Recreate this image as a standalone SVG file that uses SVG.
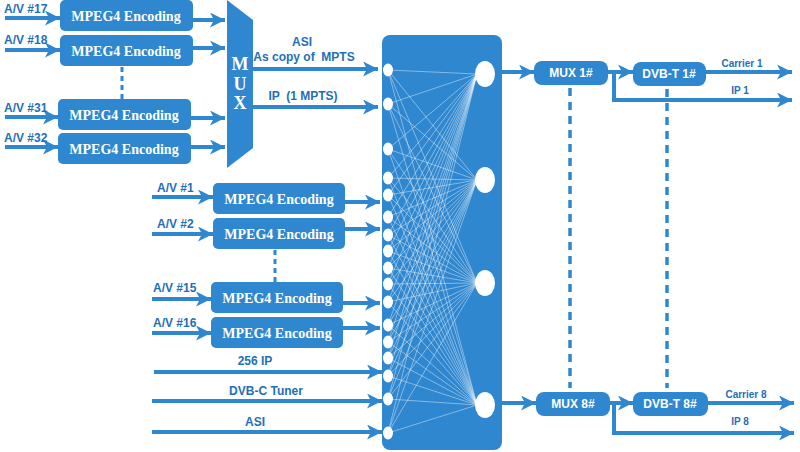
<svg xmlns="http://www.w3.org/2000/svg" width="800" height="452" viewBox="0 0 800 452">
<defs>
<marker id="ah" markerUnits="userSpaceOnUse" markerWidth="17" markerHeight="15" refX="15" refY="7.5" orient="auto" viewBox="0 0 17 15">
<path d="M0,0 L15,7.5 L0,15 L4,7.5 Z" fill="#2f87cf"/>
</marker>
<style>
.box{fill:#2f87cf;}
.enc{font-family:"Liberation Serif","Times New Roman",serif;font-weight:bold;font-size:14px;fill:#ffffff;text-anchor:middle;}
.mux{font-family:"Liberation Serif","Times New Roman",serif;font-weight:bold;font-size:18px;fill:#ffffff;text-anchor:middle;}
.wl{font-family:"Liberation Sans",Arial,sans-serif;font-weight:bold;font-size:12px;fill:#ffffff;text-anchor:middle;}
.lbl{font-family:"Liberation Sans",Arial,sans-serif;font-weight:bold;font-size:12px;fill:#1e6fba;}
.sm{font-family:"Liberation Sans",Arial,sans-serif;font-weight:bold;font-size:10px;fill:#1e6fba;text-anchor:middle;}
.ar{stroke:#2f87cf;stroke-width:4;fill:none;marker-end:url(#ah);}
.dash{stroke:#2f87cf;stroke-width:3;stroke-dasharray:5 4;fill:none;}
.dash2{stroke:#2f87cf;stroke-width:3.5;stroke-dasharray:8 6;fill:none;}
.port{fill:#ffffff;}
</style>
</defs>
<rect width="800" height="452" fill="#ffffff"/>

<g id="connectors">
<line class="ar" x1="5" y1="18" x2="60" y2="18"/>
<line class="ar" x1="5" y1="50" x2="60" y2="50"/>
<line class="ar" x1="5" y1="117" x2="58" y2="117"/>
<line class="ar" x1="5" y1="147" x2="58" y2="147"/>
<line class="ar" x1="193" y1="20" x2="225" y2="20"/>
<line class="ar" x1="193" y1="48" x2="225" y2="48"/>
<line class="ar" x1="191" y1="118" x2="225" y2="118"/>
<line class="ar" x1="191" y1="147" x2="225" y2="147"/>
<line class="dash" x1="122" y1="67" x2="122" y2="99"/>
<line class="ar" x1="253" y1="69" x2="378" y2="69"/>
<line class="ar" x1="253" y1="107" x2="378" y2="107"/>
<line class="ar" x1="152" y1="197" x2="213" y2="197"/>
<line class="ar" x1="152" y1="234" x2="213" y2="234"/>
<line class="ar" x1="152" y1="299" x2="211" y2="299"/>
<line class="ar" x1="152" y1="333" x2="211" y2="333"/>
<line class="ar" x1="345" y1="202" x2="380" y2="202"/>
<line class="ar" x1="345" y1="229" x2="380" y2="229"/>
<line class="ar" x1="343" y1="303" x2="380" y2="303"/>
<line class="ar" x1="343" y1="328" x2="380" y2="328"/>
<line class="dash" x1="275" y1="250" x2="275" y2="282"/>
<line class="ar" x1="154" y1="372" x2="382" y2="372"/>
<line class="ar" x1="152" y1="401" x2="382" y2="401"/>
<line class="ar" x1="152" y1="432" x2="382" y2="432"/>
<line class="ar" x1="496" y1="72" x2="534" y2="72"/>
<line class="ar" x1="608" y1="72" x2="633" y2="72"/>
<line class="ar" x1="706" y1="72" x2="792" y2="72"/>
<path class="ar" d="M614,72 L614,100 L792,100"/>
<line class="ar" x1="496" y1="403" x2="536" y2="403"/>
<line class="ar" x1="610" y1="403" x2="633" y2="403"/>
<line class="ar" x1="708" y1="403" x2="794" y2="403"/>
<path class="ar" d="M614,403 L614,433 L794,433"/>
<line class="dash2" x1="570" y1="88" x2="570" y2="388"/>
<line class="dash2" x1="667" y1="89" x2="667" y2="388"/>
</g>

<g id="enc17"><rect class="box" x="60" y="0" width="133" height="31" rx="5"/><text class="enc" x="126" y="21">MPEG4 Encoding</text></g>
<g id="enc18"><rect class="box" x="60" y="35" width="133" height="31" rx="5"/><text class="enc" x="126" y="56">MPEG4 Encoding</text></g>
<g id="enc31"><rect class="box" x="58" y="99" width="133" height="31" rx="5"/><text class="enc" x="124" y="120">MPEG4 Encoding</text></g>
<g id="enc32"><rect class="box" x="58" y="133" width="133" height="31" rx="5"/><text class="enc" x="124" y="154">MPEG4 Encoding</text></g>

<g id="labels-left">
<text class="lbl" x="4" y="13">A/V #17</text>
<text class="lbl" x="4" y="44">A/V #18</text>
<text class="lbl" x="4" y="112">A/V #31</text>
<text class="lbl" x="4" y="142">A/V #32</text>
<text class="lbl" x="157" y="192">A/V #1</text>
<text class="lbl" x="157" y="228">A/V #2</text>
<text class="lbl" x="153" y="292">A/V #15</text>
<text class="lbl" x="153" y="327">A/V #16</text>
<text class="lbl" x="302" y="46" text-anchor="middle">ASI</text>
<text class="lbl" x="304" y="61" text-anchor="middle" xml:space="preserve">As copy of  MPTS</text>
<text class="lbl" x="303" y="100" text-anchor="middle" xml:space="preserve">IP  (1 MPTS)</text>
<text class="lbl" x="255" y="365" text-anchor="middle">256 IP</text>
<text class="lbl" x="266" y="395" text-anchor="middle">DVB-C Tuner</text>
<text class="lbl" x="255" y="426" text-anchor="middle">ASI</text>
</g>

<g id="mux">
<polygon class="box" points="227,0 253,20 253,148 227,168"/>
<text class="mux" x="240" y="70">M</text>
<text class="mux" x="240" y="90">U</text>
<text class="mux" x="240" y="109">X</text>
</g>

<g id="enc1"><rect class="box" x="213" y="183" width="132" height="31" rx="5"/><text class="enc" x="279" y="204">MPEG4 Encoding</text></g>
<g id="enc2"><rect class="box" x="213" y="218" width="132" height="31" rx="5"/><text class="enc" x="279" y="239">MPEG4 Encoding</text></g>
<g id="enc15"><rect class="box" x="211" y="282" width="132" height="31" rx="5"/><text class="enc" x="277" y="303">MPEG4 Encoding</text></g>
<g id="enc16"><rect class="box" x="211" y="317" width="132" height="31" rx="5"/><text class="enc" x="277" y="338">MPEG4 Encoding</text></g>

<g id="matrix">
<rect class="box" x="382" y="35" width="120" height="415" rx="8"/>
<path stroke="#ffffff" stroke-width="0.6" stroke-opacity="0.7" fill="none" d="M388 70L477 74M388 70L477 180M388 70L477 283M388 70L477 405M388 104L477 74M388 104L477 180M388 104L477 283M388 104L477 405M388 149L477 74M388 149L477 180M388 149L477 283M388 149L477 405M388 178L477 74M388 178L477 180M388 178L477 283M388 178L477 405M388 195L477 74M388 195L477 180M388 195L477 283M388 195L477 405M388 217L477 74M388 217L477 180M388 217L477 283M388 217L477 405M388 235L477 74M388 235L477 180M388 235L477 283M388 235L477 405M388 251L477 74M388 251L477 180M388 251L477 283M388 251L477 405M388 268L477 74M388 268L477 180M388 268L477 283M388 268L477 405M388 284L477 74M388 284L477 180M388 284L477 283M388 284L477 405M388 302L477 74M388 302L477 180M388 302L477 283M388 302L477 405M388 325L477 74M388 325L477 180M388 325L477 283M388 325L477 405M388 342L477 74M388 342L477 180M388 342L477 283M388 342L477 405M388 358L477 74M388 358L477 180M388 358L477 283M388 358L477 405M388 376L477 74M388 376L477 180M388 376L477 283M388 376L477 405M388 399L477 74M388 399L477 180M388 399L477 283M388 399L477 405M388 433L477 74M388 433L477 180M388 433L477 283M388 433L477 405"/>
<ellipse class="port" cx="388" cy="70" rx="5" ry="6.5"/>
<ellipse class="port" cx="388" cy="104" rx="5" ry="6.5"/>
<ellipse class="port" cx="388" cy="149" rx="5" ry="6.5"/>
<ellipse class="port" cx="388" cy="178" rx="5" ry="6.5"/>
<ellipse class="port" cx="388" cy="195" rx="5" ry="6.5"/>
<ellipse class="port" cx="388" cy="217" rx="5" ry="6.5"/>
<ellipse class="port" cx="388" cy="235" rx="5" ry="6.5"/>
<ellipse class="port" cx="388" cy="251" rx="5" ry="6.5"/>
<ellipse class="port" cx="388" cy="268" rx="5" ry="6.5"/>
<ellipse class="port" cx="388" cy="284" rx="5" ry="6.5"/>
<ellipse class="port" cx="388" cy="302" rx="5" ry="6.5"/>
<ellipse class="port" cx="388" cy="325" rx="5" ry="6.5"/>
<ellipse class="port" cx="388" cy="342" rx="5" ry="6.5"/>
<ellipse class="port" cx="388" cy="358" rx="5" ry="6.5"/>
<ellipse class="port" cx="388" cy="376" rx="5" ry="6.5"/>
<ellipse class="port" cx="388" cy="399" rx="5" ry="6.5"/>
<ellipse class="port" cx="388" cy="433" rx="5" ry="6.5"/>
<ellipse class="port" cx="485" cy="74" rx="10" ry="13"/>
<ellipse class="port" cx="485" cy="180" rx="10" ry="13"/>
<ellipse class="port" cx="485" cy="283" rx="10" ry="13"/>
<ellipse class="port" cx="485" cy="405" rx="10" ry="13"/>
</g>

<g id="mux1"><rect class="box" x="534" y="61" width="74" height="24" rx="8"/><text class="wl" x="571" y="77">MUX 1#</text></g>
<g id="dvbt1"><rect class="box" x="633" y="62" width="73" height="24" rx="8"/><text class="wl" x="669" y="78">DVB-T 1#</text></g>
<g id="mux8"><rect class="box" x="536" y="392" width="74" height="24" rx="8"/><text class="wl" x="573" y="408">MUX 8#</text></g>
<g id="dvbt8"><rect class="box" x="633" y="392" width="75" height="24" rx="8"/><text class="wl" x="670" y="408">DVB-T 8#</text></g>

<g id="labels-right">
<text class="sm" x="742" y="67">Carrier 1</text>
<text class="sm" x="740" y="94">IP 1</text>
<text class="sm" x="746" y="398">Carrier 8</text>
<text class="sm" x="740" y="425">IP 8</text>
</g>
</svg>
